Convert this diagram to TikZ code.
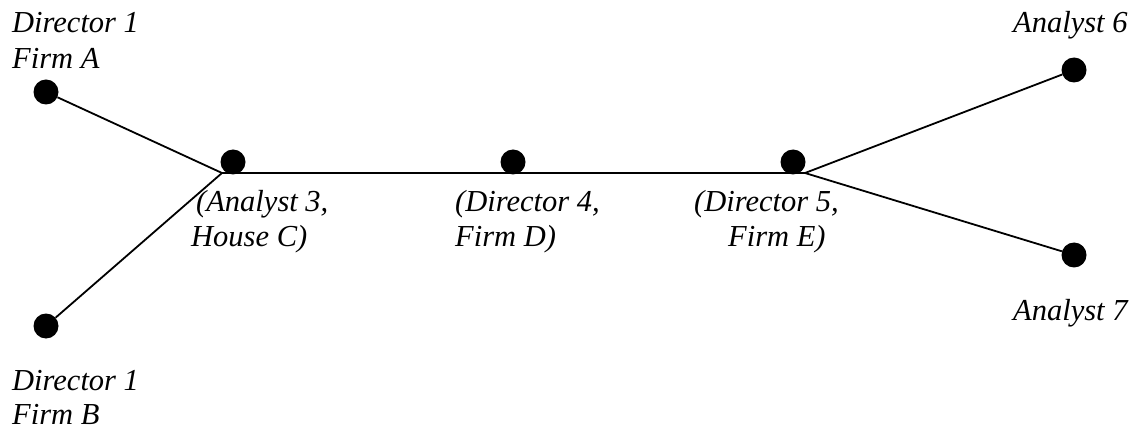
\documentclass[tikz,border=0pt]{standalone}
\usepackage{fontspec}
\setmainfont{Liberation Serif}[ItalicFont={Liberation Serif Italic}]
\begin{document}
\begin{tikzpicture}[x=1pt,y=-1pt,
  dot/.style={circle,fill=black,inner sep=0pt,minimum size=25pt},
  lbl/.style={anchor=base west,inner sep=0pt,font=\fontsize{30.5}{36}\selectfont\itshape},
  edge/.style={line width=1.8pt}]
\useasboundingbox (0,0) rectangle (1137,430);
% dots
\node[dot] (dA) at (46,92) {};
\node[dot] (dB) at (46,326) {};
\node[dot] (a3) at (233,162) {};
\node[dot] (d4) at (513,162) {};
\node[dot] (d5) at (793,162) {};
\node[dot] (a6) at (1074,70) {};
\node[dot] (a7) at (1074,255) {};
\coordinate (j1) at (222,173);
\coordinate (j2) at (805,173);
% connectors
\draw[edge] (dA) -- (j1);
\draw[edge] (dB) -- (j1);
\draw[edge] (j1) -- (j2);
\draw[edge] (j2) -- (a6);
\draw[edge] (j2) -- (a7);
% labels
\node[lbl] (tA1) at (12,33) {Director 1};
\node[lbl] (tA2) at (12,69) {Firm A};
\node[lbl] (tB1) at (12,390) {Director 1};
\node[lbl] (tB2) at (12,424) {Firm B};
\node[lbl] (t31) at (196,212) {(Analyst 3,};
\node[lbl] (t32) at (191,247) {House C)};
\node[lbl] (t41) at (455,212) {(Director 4,};
\node[lbl] (t42) at (455,247) {Firm D)};
\node[lbl] (t51) at (694,212) {(Director 5,};
\node[lbl] (t52) at (728,247) {Firm E)};
\node[lbl] (t6) at (1013,33) {Analyst 6};
\node[lbl] (t7) at (1013,320) {Analyst 7};
\end{tikzpicture}
\end{document}
